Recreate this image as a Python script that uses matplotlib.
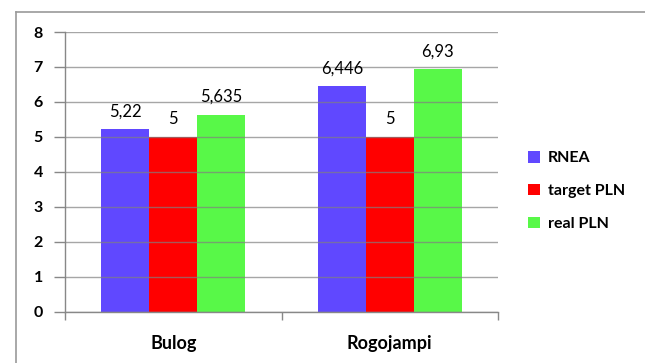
import matplotlib
matplotlib.use('Agg')
import matplotlib.pyplot as plt
from matplotlib.lines import Line2D
import numpy as np

plt.rcParams['font.family'] = ['Lato', 'DejaVu Sans']

categories = ['Bulog', 'Rogojampi']
series = ['RNEA', 'target PLN', 'real PLN']
values = {
    'RNEA': [5.22, 6.446],
    'target PLN': [5, 5],
    'real PLN': [5.635, 6.93],
}
value_labels = {
    'RNEA': ['5,22', '6,446'],
    'target PLN': ['5', '5'],
    'real PLN': ['5,635', '6,93'],
}
colors = {'RNEA': '#6048FF', 'target PLN': '#FF0000', 'real PLN': '#58F848'}

fig = plt.figure(figsize=(6.45, 3.63), dpi=100)
ax = fig.add_axes([65 / 645, 1 - 311.7 / 363, 433 / 645, (311.7 - 32) / 363])

x = np.arange(len(categories))
w = 0.2217
for i, s in enumerate(series):
    pos = x + (i - 1) * w
    ax.bar(pos, values[s], width=w, color=colors[s], label=s, zorder=2)
    for px, v, lab in zip(pos, values[s], value_labels[s]):
        ax.text(px, v + 0.28, lab, ha='center', va='bottom', fontsize=12, color='black')

ax.set_ylim(0, 8)
ax.set_xlim(-0.5, 1.5)
ax.set_yticks(range(0, 9))
ax.yaxis.grid(True, color='#808080', linewidth=1.0, alpha=0.7, zorder=3)
ax.set_axisbelow(False)
for t in ax.get_yticklabels():
    t.set_fontweight('bold')
ax.tick_params(axis='y', length=8, width=1, color='#888888', pad=8, labelsize=11.5)

# category labels between boundary ticks
ax.set_xticks([-0.5, 0.5, 1.5])
ax.set_xticklabels([])
ax.set_xticks(x, minor=True)
ax.set_xticklabels(categories, minor=True, fontsize=13, fontweight='bold')
ax.tick_params(axis='x', which='major', length=6, width=1, color='#888888')
ax.tick_params(axis='x', which='minor', length=0, pad=17)

for side in ['top', 'right']:
    ax.spines[side].set_visible(False)
for side in ['left', 'bottom']:
    ax.spines[side].set_color('#888888')
    ax.spines[side].set_linewidth(1)

leg = fig.legend(loc='center left', bbox_to_anchor=(522 / 645, 1 - 191 / 363), frameon=False,
                 fontsize=11.5, handlelength=0.75, handleheight=0.75, handletextpad=0.45,
                 labelspacing=1.15, borderaxespad=0)
for t in leg.get_texts():
    t.set_fontweight('bold')

# outer chart frame (cut off on the right and bottom)
fig.add_artist(Line2D([16 / 645, 1], [1 - 12 / 363, 1 - 12 / 363], color='#9a9a9a', lw=1.2))
fig.add_artist(Line2D([16 / 645, 16 / 645], [0, 1 - 12 / 363], color='#9a9a9a', lw=1.2))

fig.savefig('out.png', dpi=100)
